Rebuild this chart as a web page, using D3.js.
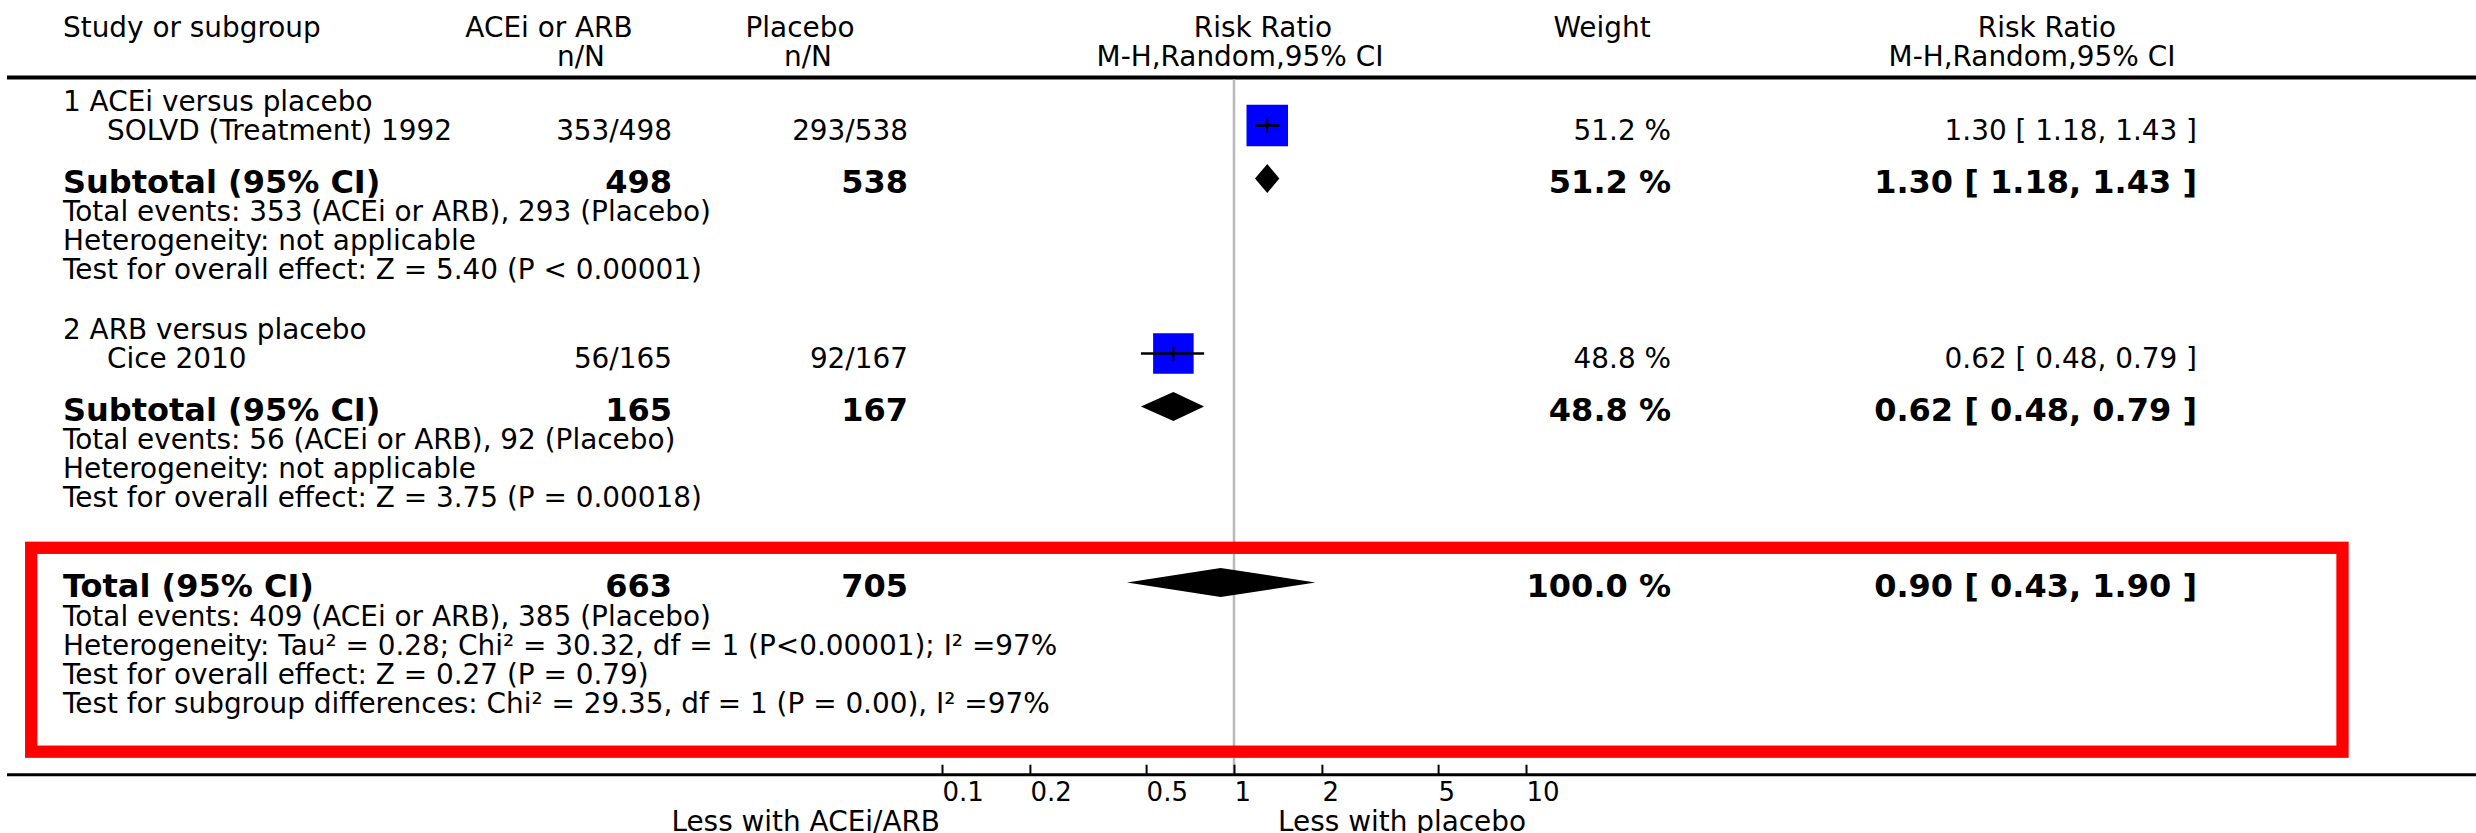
<!DOCTYPE html>
<html>
<head>
<meta charset="utf-8">
<script src="https://cdn.jsdelivr.net/npm/d3@7"></script>
<style>
  body { margin: 0; background: #fff; }
  text { font-family: "DejaVu Sans", sans-serif; fill: #000; }
</style>
</head>
<body>
<div id="chart"></div>
<script>
// ---- data ----
const groupNames = ["1 ACEi versus placebo", "2 ARB versus placebo"];
const studyNames = ["SOLVD (Treatment) 1992", "Cice 2010"];
const studyTreat = ["353/498", "56/165"];
const studyCtrl = ["293/538", "92/167"];
const studyWeight = [51.2, 48.8];
const studyRR = [1.30, 0.62];
const studyLo = [1.18, 0.48];
const studyHi = [1.43, 0.79];

const subTreatN = [498, 165];
const subCtrlN = [538, 167];
const subWeight = [51.2, 48.8];
const subRR = [1.30, 0.62];
const subLo = [1.18, 0.48];
const subHi = [1.43, 0.79];
const subNotes = [
    ["Total events: 353 (ACEi or ARB), 293 (Placebo)",
     "Heterogeneity: not applicable",
     "Test for overall effect: Z = 5.40 (P < 0.00001)"],
    ["Total events: 56 (ACEi or ARB), 92 (Placebo)",
     "Heterogeneity: not applicable",
     "Test for overall effect: Z = 3.75 (P = 0.00018)"]
];

const totalTreatN = 663;
const totalCtrlN = 705;
const totalWeight = 100.0;
const totalRR = [0.90, 0.43, 1.90];
const totalNotes = [
    "Total events: 409 (ACEi or ARB), 385 (Placebo)",
    "Heterogeneity: Tau² = 0.28; Chi² = 30.32, df = 1 (P<0.00001); I² =97%",
    "Test for overall effect: Z = 0.27 (P = 0.79)",
    "Test for subgroup differences: Chi² = 29.35, df = 1 (P = 0.00), I² =97%"
];

const tickValues = [0.1, 0.2, 0.5, 1, 2, 5, 10];
const leftLabel = "Less with ACEi/ARB";
const rightLabel = "Less with placebo";

// ---- layout ----
const width = 2476;
const height = 833;
const fs = 27.9, fsBold = 32;
const colName = 63, colStudy = 107;
const colTreat = 672, colCtrl = 908;
const colWeight = 1671, colRR = 2197;
const headerY = 77.5, axisY = 774.7;

const svg = d3.select("#chart")
    .append("svg")
    .attr("width", width)
    .attr("height", height);

const x = d3.scaleLog().domain([0.1, 10]).range([942, 1526]);
const boxSize = d3.scaleSqrt().domain([0, 100]).range([0, 58]);
const f2 = d3.format(".2f");
const f1 = d3.format(".1f");
const rrText = (m, lo, hi) => `${f2(m)} [ ${f2(lo)}, ${f2(hi)} ]`;

function txt(str, px, py, opts = {}) {
    return svg.append("text")
        .attr("x", px)
        .attr("y", py)
        .attr("font-size", opts.bold ? fsBold : (opts.size || fs))
        .attr("font-weight", opts.bold ? "bold" : "normal")
        .attr("text-anchor", opts.anchor || "start")
        .text(str);
}

// header
txt("Study or subgroup", colName, 37);
txt("ACEi or ARB", 549, 37, {anchor: "middle"});
txt("n/N", 581, 66, {anchor: "middle"});
txt("Placebo", 800, 37, {anchor: "middle"});
txt("n/N", 808, 66, {anchor: "middle"});
txt("Risk Ratio", 1263, 37, {anchor: "middle"});
txt("M-H,Random,95% CI", 1240, 66, {anchor: "middle"});
txt("Weight", 1602, 37, {anchor: "middle"});
txt("Risk Ratio", 2047, 37, {anchor: "middle"});
txt("M-H,Random,95% CI", 2032, 66, {anchor: "middle"});

svg.append("line")
    .attr("x1", 7).attr("x2", width)
    .attr("y1", headerY).attr("y2", headerY)
    .attr("stroke", "#000").attr("stroke-width", 4);

// line of no effect
svg.append("line")
    .attr("x1", x(1)).attr("x2", x(1))
    .attr("y1", headerY + 2).attr("y2", axisY)
    .attr("stroke", "#b8b8b8").attr("stroke-width", 2.5);

function diamond(m, lo, hi, cy, h) {
    svg.append("path")
        .attr("d", `M${x(lo)},${cy}L${x(m)},${cy - h}L${x(hi)},${cy}L${x(m)},${cy + h}Z`)
        .attr("fill", "#000");
}

const groupY = [110.5, 338.5];
groupNames.forEach((g, i) => {
    const gy = groupY[i];
    const sy = gy + 29;
    const ty = gy + 82;
    txt(g, colName, gy);

    // study row
    txt(studyNames[i], colStudy, sy);
    txt(studyTreat[i], colTreat, sy, {anchor: "end"});
    txt(studyCtrl[i], colCtrl, sy, {anchor: "end"});
    txt(`${f1(studyWeight[i])} %`, colWeight, sy, {anchor: "end"});
    txt(rrText(studyRR[i], studyLo[i], studyHi[i]), colRR, sy, {anchor: "end"});

    const cy = sy - 14;
    const s = boxSize(studyWeight[i]);
    svg.append("rect")
        .attr("x", x(studyRR[i]) - s / 2)
        .attr("y", cy - s / 2)
        .attr("width", s).attr("height", s)
        .attr("fill", "#0000ff");
    svg.append("line")
        .attr("x1", x(studyLo[i])).attr("x2", x(studyHi[i]))
        .attr("y1", cy).attr("y2", cy)
        .attr("stroke", "#000").attr("stroke-width", 2.5);
    svg.append("line")
        .attr("x1", x(studyRR[i])).attr("x2", x(studyRR[i]))
        .attr("y1", cy - 7).attr("y2", cy + 7)
        .attr("stroke", "#000").attr("stroke-width", 2);

    // subtotal
    txt("Subtotal (95% CI)", colName, ty, {bold: true});
    txt(subTreatN[i], colTreat, ty, {bold: true, anchor: "end"});
    txt(subCtrlN[i], colCtrl, ty, {bold: true, anchor: "end"});
    txt(`${f1(subWeight[i])} %`, colWeight, ty, {bold: true, anchor: "end"});
    txt(rrText(subRR[i], subLo[i], subHi[i]), colRR, ty, {bold: true, anchor: "end"});
    diamond(subRR[i], subLo[i], subHi[i], ty - 14, 14.5);

    subNotes[i].forEach((n, j) => txt(n, colName, ty + 28.5 + j * 29));
});

// total
const totY = 596.7;
txt("Total (95% CI)", colName, totY, {bold: true});
txt(totalTreatN, colTreat, totY, {bold: true, anchor: "end"});
txt(totalCtrlN, colCtrl, totY, {bold: true, anchor: "end"});
txt(`${f1(totalWeight)} %`, colWeight, totY, {bold: true, anchor: "end"});
txt(rrText(totalRR[0], totalRR[1], totalRR[2]), colRR, totY, {bold: true, anchor: "end"});
diamond(totalRR[0], totalRR[1], totalRR[2], totY - 14.2, 14.5);
totalNotes.forEach((n, j) => txt(n, colName, totY + 29.3 + j * 29));

// highlight box
svg.append("rect")
    .attr("x", 31.2).attr("y", 547.8)
    .attr("width", 2311.3).attr("height", 203.9)
    .attr("fill", "none")
    .attr("stroke", "#ff0000").attr("stroke-width", 12.3);

// axis
svg.append("line")
    .attr("x1", 7).attr("x2", width)
    .attr("y1", axisY).attr("y2", axisY)
    .attr("stroke", "#000").attr("stroke-width", 3);

const axis = svg.append("g")
    .attr("transform", `translate(0,${axisY})`)
    .call(d3.axisBottom(x).tickValues(tickValues).tickSize(-10).tickFormat(d3.format("")));
axis.select(".domain").remove();
axis.selectAll(".tick line").attr("stroke", "#000").attr("stroke-width", 2);
axis.selectAll(".tick text")
    .attr("font-family", "DejaVu Sans")
    .attr("font-size", 26)
    .attr("fill", "#000")
    .attr("text-anchor", "start")
    .attr("x", 0)
    .attr("y", 26)
    .attr("dy", 0);

txt(leftLabel, 940, 831, {anchor: "end"});
txt(rightLabel, 1278, 831);
</script>
</body>
</html>
